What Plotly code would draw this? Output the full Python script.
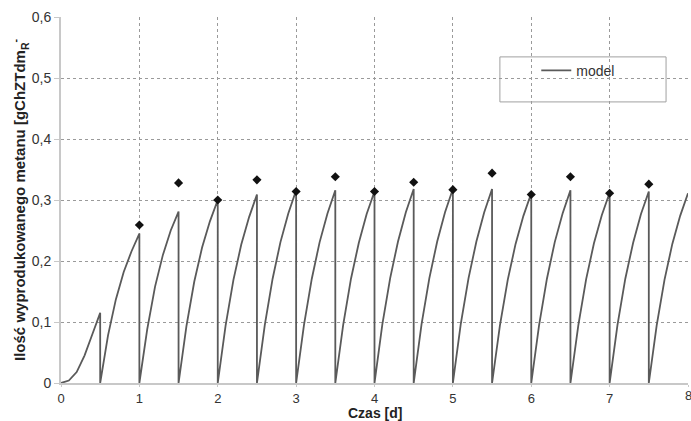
import plotly.graph_objects as go

# Model curve: values read at offsets 0, 0.1, 0.2, 0.3, 0.4, 0.5 d within each 0.5-day cycle
seg_starts = [0.0, 0.5, 1.0, 1.5, 2.0, 2.5, 3.0, 3.5, 4.0, 4.5, 5.0, 5.5, 6.0, 6.5, 7.0, 7.5]
seg_offsets = [0.0, 0.1, 0.2, 0.3, 0.4, 0.5]
seg_values = [
    [0.0, 0.004, 0.018, 0.045, 0.080, 0.115],
    [0.0, 0.078, 0.137, 0.182, 0.216, 0.245],
    [0.0, 0.088, 0.158, 0.210, 0.250, 0.281],
    [0.0, 0.093, 0.166, 0.222, 0.265, 0.300],
    [0.0, 0.094, 0.169, 0.227, 0.272, 0.309],
    [0.0, 0.095, 0.171, 0.231, 0.278, 0.316],
    [0.0, 0.095, 0.171, 0.231, 0.278, 0.316],
    [0.0, 0.095, 0.171, 0.230, 0.277, 0.314],
    [0.0, 0.096, 0.172, 0.232, 0.280, 0.318],
    [0.0, 0.096, 0.172, 0.232, 0.280, 0.318],
    [0.0, 0.096, 0.172, 0.232, 0.280, 0.318],
    [0.0, 0.094, 0.169, 0.228, 0.274, 0.311],
    [0.0, 0.095, 0.171, 0.231, 0.278, 0.316],
    [0.0, 0.094, 0.170, 0.229, 0.275, 0.312],
    [0.0, 0.095, 0.171, 0.230, 0.277, 0.314],
    [0.0, 0.094, 0.169, 0.228, 0.274, 0.311],
]

# Measured points
meas_x = [1.0, 1.5, 2.0, 2.5, 3.0, 3.5, 4.0, 4.5, 5.0, 5.5, 6.0, 6.5, 7.0, 7.5]
meas_y = [0.259, 0.328, 0.300, 0.333, 0.314, 0.338, 0.314, 0.329, 0.317, 0.344, 0.309, 0.338, 0.311, 0.326]

y_tickvals = [0, 0.1, 0.2, 0.3, 0.4, 0.5, 0.6]
y_ticktext = ["0", "0,1", "0,2", "0,3", "0,4", "0,5", "0,6"]
x_tickvals = [0, 1, 2, 3, 4, 5, 6, 7, 8]
x_ticktext = ["0", "1", "2", "3", "4", "5", "6", "7", "8"]

mx, my = [], []
for s, vals in zip(seg_starts, seg_values):
    for o, v in zip(seg_offsets, vals):
        mx.append(s + o)
        my.append(v)

FAM = "Liberation Sans, Arial, sans-serif"

fig = go.Figure()
fig.add_trace(go.Scatter(x=mx, y=my, mode="lines", name="model",
                         line=dict(color="#5a5a5a", width=1.8)))
fig.add_trace(go.Scatter(x=meas_x, y=meas_y, mode="markers", showlegend=False,
                         marker=dict(symbol="diamond", size=7, color="#111111")))

fig.update_layout(
    width=691, height=421,
    margin=dict(l=61, r=3, t=17, b=38),
    paper_bgcolor="white", plot_bgcolor="white",
    font=dict(family=FAM, size=14, color="#333333"),
    showlegend=True,
    legend=dict(x=0.758, y=0.897, xanchor="left", yanchor="top",
                bgcolor="rgba(0,0,0,0)", borderwidth=0,
                font=dict(family=FAM, size=14, color="#333333")),
    xaxis=dict(range=[0, 8], tickvals=x_tickvals, ticktext=x_ticktext,
               tickfont=dict(family=FAM, size=13, color="#333333"),
               showgrid=True, gridcolor="#9a9a9a", griddash="dot", gridwidth=1,
               showline=True, linecolor="#c8c8c8", linewidth=2,
               ticks="outside", ticklen=2, tickcolor="#c8c8c8",
               zeroline=False, automargin=False),
    yaxis=dict(range=[0, 0.6], tickvals=y_tickvals, ticktext=y_ticktext,
               tickfont=dict(family=FAM, size=14, color="#333333"),
               showgrid=True, gridcolor="#9a9a9a", griddash="dot", gridwidth=1,
               showline=True, linecolor="#c8c8c8", linewidth=2,
               ticks="outside", ticklen=5, tickcolor="#c8c8c8",
               zeroline=False, automargin=False,
               title=dict(text="<b>Ilość wyprodukowanego metanu [gChZTdm<sub>R</sub><sup>-</sup></b>", standoff=2,
                          font=dict(family=FAM, size=15, color="#222222"))),
    shapes=[dict(type="rect", xref="paper", yref="paper",
                 x0=0.700, x1=0.965, y0=0.768, y1=0.891,
                 line=dict(color="#a0a0a0", width=1), fillcolor="white", layer="below")],
    annotations=[
        dict(x=x_tickvals[-1], y=0, xref="x", yref="paper", text=x_ticktext[-1],
             showarrow=False, yanchor="top", xanchor="center", yshift=-3,
             font=dict(family=FAM, size=13, color="#333333")),
        dict(x=0.5, y=0, xref="paper", yref="paper", text="<b>Czas [d]</b>",
             showarrow=False, yanchor="middle", xanchor="center", yshift=-29.5,
             font=dict(family=FAM, size=14, color="#222222")),
    ],
)

fig.write_html("out.html")
